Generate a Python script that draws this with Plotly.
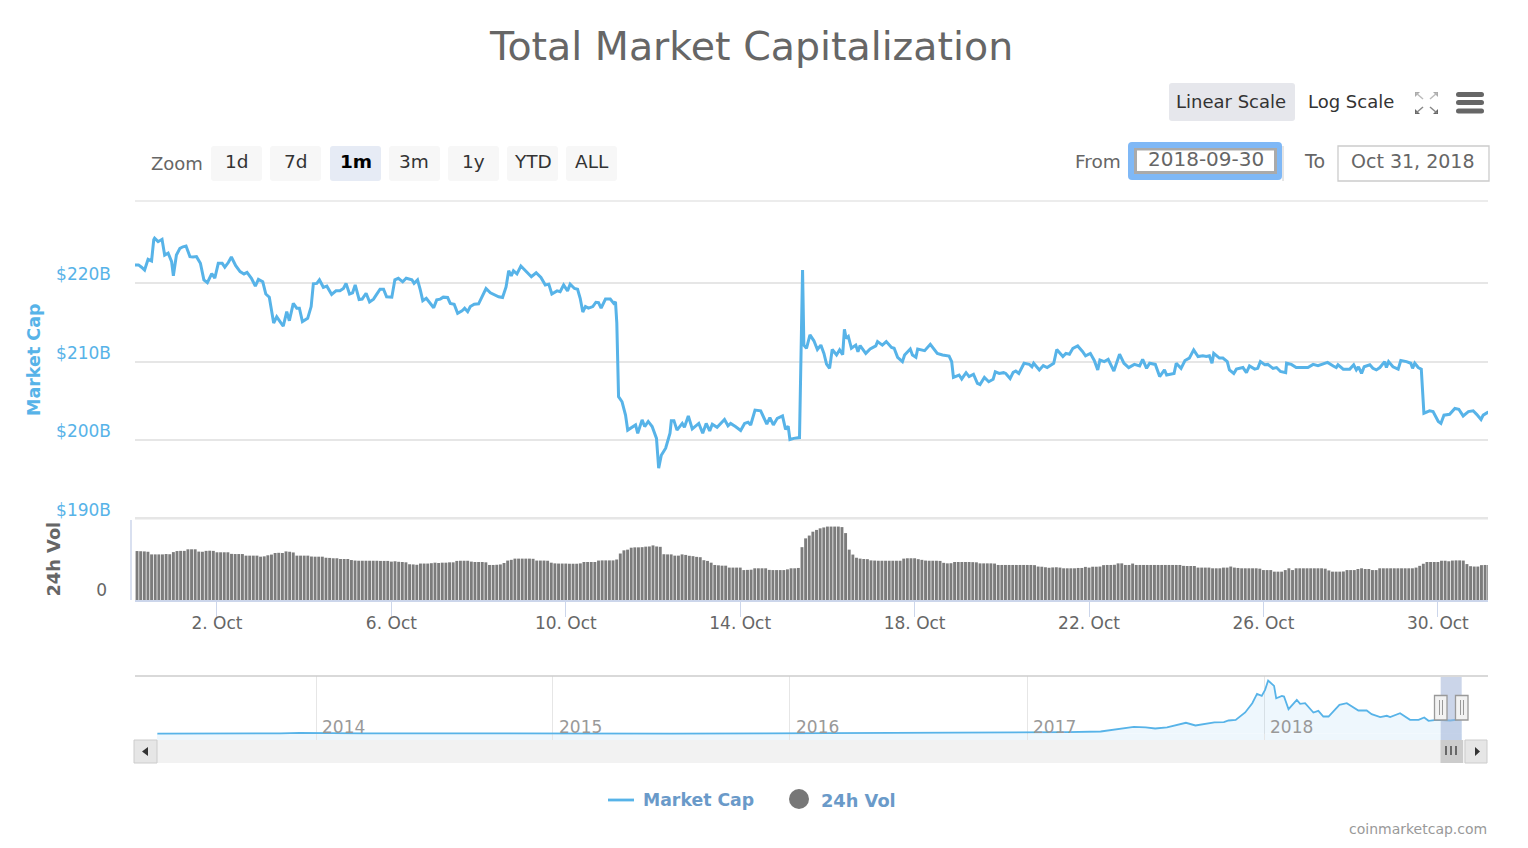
import pandas as pd
import plotly.graph_objects as go

# market cap, $B. days counted from 30 Sep 2018 00:00
line_days = [
    0.09, 0.20, 0.27, 0.34, 0.42, 0.50, 0.55, 0.57, 0.65, 0.74, 0.80, 0.88, 0.96, 1.00, 1.07, 1.15, 1.22, 1.29,
    1.38, 1.45, 1.53, 1.62, 1.70, 1.78, 1.88, 1.95, 2.03, 2.12, 2.18, 2.26, 2.33, 2.43, 2.53, 2.62, 2.69, 2.79,
    2.88, 2.95, 3.05, 3.12, 3.20, 3.25, 3.30, 3.37, 3.44, 3.52, 3.60, 3.66, 3.75, 3.83, 3.89, 3.96, 4.08, 4.16,
    4.21, 4.29, 4.35, 4.44, 4.52, 4.63, 4.73, 4.82, 4.90, 4.96, 5.04, 5.11, 5.17, 5.26, 5.33, 5.42, 5.50, 5.59,
    5.65, 5.74, 5.82, 5.89, 6.01, 6.08, 6.16, 6.26, 6.34, 6.47, 6.52, 6.60, 6.66, 6.72, 6.80, 6.89, 6.97, 7.04,
    7.12, 7.19, 7.29, 7.35, 7.44, 7.52, 7.62, 7.68, 7.75, 7.81, 7.90, 8.00, 8.07, 8.17, 8.27, 8.38, 8.46, 8.55,
    8.63, 8.69, 8.75, 8.80, 8.88, 8.97, 9.11, 9.21, 9.32, 9.43, 9.53, 9.61, 9.68, 9.80, 9.87, 9.95, 10.04, 10.10,
    10.20, 10.27, 10.33, 10.39, 10.45, 10.52, 10.62, 10.69, 10.75, 10.81, 10.91, 11.02, 11.10, 11.14, 11.17, 11.21,
    11.29, 11.37, 11.42, 11.52, 11.60, 11.65, 11.75, 11.81, 11.89, 11.98, 12.08, 12.13, 12.19, 12.29, 12.39, 12.42,
    12.48, 12.55, 12.67, 12.72, 12.81, 12.90, 13.05, 13.14, 13.22, 13.30, 13.36, 13.47, 13.64, 13.72, 13.78, 13.89,
    14.01, 14.10, 14.18, 14.24, 14.34, 14.47, 14.54, 14.61, 14.68, 14.76, 14.85, 14.97, 15.04, 15.10, 15.14, 15.23,
    15.36, 15.43, 15.46, 15.52, 15.60, 15.69, 15.77, 15.85, 15.92, 15.98, 16.05, 16.11, 16.21, 16.28, 16.35, 16.39,
    16.43, 16.48, 16.55, 16.65, 16.70, 16.75, 16.88, 16.98, 17.11, 17.15, 17.26, 17.35, 17.47, 17.53, 17.61, 17.72,
    17.77, 17.90, 17.95, 18.03, 18.07, 18.23, 18.36, 18.45, 18.52, 18.64, 18.79, 18.85, 18.89, 19.02, 19.08, 19.18,
    19.25, 19.35, 19.44, 19.50, 19.60, 19.70, 19.80, 19.85, 19.94, 20.04, 20.09, 20.19, 20.26, 20.32, 20.39, 20.51,
    20.63, 20.69, 20.73, 20.86, 20.95, 21.04, 21.13, 21.19, 21.26, 21.40, 21.47, 21.55, 21.63, 21.74, 21.85, 21.92,
    22.03, 22.12, 22.20, 22.25, 22.35, 22.44, 22.57, 22.70, 22.80, 22.91, 23.04, 23.16, 23.23, 23.32, 23.39, 23.52,
    23.62, 23.73, 23.78, 23.95, 24.00, 24.11, 24.20, 24.30, 24.40, 24.50, 24.61, 24.69, 24.76, 24.82, 24.86, 24.99,
    25.07, 25.17, 25.22, 25.32, 25.38, 25.53, 25.61, 25.68, 25.80, 25.87, 25.93, 26.03, 26.10, 26.22, 26.30, 26.39,
    26.51, 26.53, 26.64, 26.75, 27.02, 27.14, 27.25, 27.47, 27.60, 27.67, 27.71, 27.83, 27.98, 28.07, 28.13, 28.18,
    28.25, 28.31, 28.44, 28.51, 28.59, 28.67, 28.78, 28.82, 28.87, 28.97, 29.09, 29.15, 29.28, 29.38, 29.42, 29.47,
    29.55, 29.62, 29.68, 29.81, 29.89, 30.01, 30.07, 30.14, 30.27, 30.39, 30.48, 30.58, 30.70, 30.81, 30.89, 30.99,
    31.04, 31.14, 31.19,
]
market_cap = [
    222.3, 222.3, 222.0, 221.65, 223.0, 222.8, 225.5, 225.7, 225.25, 225.55, 223.55, 223.8, 222.7, 220.9, 223.55, 224.4, 224.6, 224.7,
    223.35, 223.3, 223.35, 222.5, 220.4, 220.05, 221.2, 220.6, 222.5, 222.5, 222.0, 222.6, 223.3, 222.2, 221.45, 221.15, 221.35, 220.6,
    219.6, 220.45, 220.15, 218.6, 218.2, 216.6, 214.9, 215.7, 215.1, 214.5, 216.35, 215.2, 217.4, 216.8, 216.8, 215.1, 215.5, 217.0,
    219.9, 219.95, 220.4, 219.45, 219.6, 218.55, 219.0, 219.0, 219.3, 219.95, 218.6, 218.75, 219.75, 217.9, 217.95, 218.7, 217.6, 217.95,
    218.45, 219.2, 219.2, 218.25, 218.2, 220.4, 220.6, 220.15, 220.6, 220.4, 219.95, 220.4, 219.2, 217.75, 218.05, 217.4, 216.85, 217.85,
    217.95, 218.2, 218.15, 217.4, 217.3, 216.15, 216.45, 216.8, 216.35, 217.0, 217.3, 217.35, 218.15, 219.3, 218.75, 218.45, 218.25, 218.15,
    219.5, 221.55, 220.9, 221.55, 221.15, 222.15, 221.3, 220.8, 221.3, 220.7, 219.75, 219.85, 218.6, 219.0, 218.9, 219.75, 219.0, 219.85,
    219.3, 219.2, 218.05, 216.3, 217.0, 216.8, 217.0, 217.55, 217.5, 216.8, 217.95, 217.95, 217.4, 217.6, 214.9, 205.55,
    204.9, 203.2, 201.3, 201.7, 201.95, 200.9, 202.6, 201.75, 202.4, 201.75, 200.25, 196.45, 198.1, 199.0, 200.9, 202.5,
    202.5, 201.3, 202.15, 201.65, 203.1, 201.45, 202.15, 200.9, 202.15, 201.2, 202.05, 201.65, 202.65, 201.85, 202.15, 201.75,
    201.25, 202.15, 202.3, 201.95, 203.85, 203.75, 203.0, 202.05, 202.9, 201.95, 202.8, 203.1, 201.4, 201.8, 200.1, 200.25,
    200.35, 221.65, 212.1, 211.7, 213.4, 212.65, 211.55, 212.1, 211.05, 209.7, 209.15, 211.55, 210.85, 211.5, 210.9, 214.1,
    212.95, 213.2, 211.7, 212.1, 211.25, 212.05, 211.05, 211.6, 212.0, 212.55, 212.1, 212.55, 211.8, 211.7, 210.55, 210.0,
    210.85, 211.6, 210.85, 210.55, 211.6, 211.4, 212.2, 211.5, 211.05, 210.85, 210.7, 210.0, 208.0, 208.3, 207.8, 208.6,
    208.1, 208.4, 207.25, 207.1, 208.0, 207.45, 207.75, 208.7, 208.5, 208.6, 208.5, 207.85, 208.65, 208.8, 208.5, 209.8,
    209.65, 209.35, 209.8, 208.95, 209.5, 209.25, 209.6, 209.8, 211.55, 210.65, 211.05, 210.95, 211.7, 212.0, 211.3, 210.75,
    211.05, 210.15, 208.95, 210.2, 210.0, 210.3, 208.8, 210.95, 209.8, 209.25, 209.65, 209.45, 210.3, 209.15, 209.8, 209.65,
    208.1, 208.95, 208.3, 208.5, 209.8, 209.15, 210.15, 210.45, 211.5, 210.65, 210.75, 210.65, 210.75, 209.8, 211.05, 210.45,
    210.45, 210.0, 208.95, 208.5, 209.05, 209.25, 208.6, 209.45, 209.05, 209.15, 210.0, 209.6, 209.65, 209.15, 209.25, 208.75,
    208.6, 209.8, 209.65, 209.25, 209.25, 209.65, 209.5, 209.9, 209.45, 209.25, 209.6, 209.05, 209.05, 209.6, 208.95, 209.35,
    208.5, 209.35, 209.6, 209.15, 208.95, 209.25, 210.0, 209.25, 210.0, 209.35, 209.05, 210.15, 210.0, 209.8, 209.15, 209.8,
    209.25, 209.05, 203.45, 203.75, 203.65, 202.4, 202.15, 203.2, 203.3, 204.05, 203.95, 203.1, 203.65, 203.75, 203.3, 202.65,
    203.2, 203.55, 203.45,
]

# 24h volume, $B, one bar every 2 hours from 30 Sep 02:00
volume = [
    14.4, 13.9, 13.85, 13.8, 13.7, 12.95, 12.95, 12.95, 12.95, 13.05, 13.0, 13.6, 13.9, 13.95, 13.95, 14.4, 14.4, 14.4,
    13.75, 13.7, 13.95, 14.0, 13.95, 13.55, 13.55, 13.55, 13.55, 13.1, 13.05, 13.05, 13.05, 12.6, 12.6, 12.6, 12.6, 12.3,
    12.4, 12.7, 12.9, 13.35, 13.4, 13.35, 13.8, 13.7, 13.5, 12.6, 12.6, 12.6, 12.6, 12.35, 12.3, 12.3, 12.3, 12.0,
    11.95, 11.85, 11.85, 11.65, 11.65, 11.65, 11.35, 11.2, 11.15, 11.15, 11.15, 11.15, 11.15, 11.15, 11.1, 11.1, 11.1, 10.9,
    11.0, 10.85, 10.8, 10.7, 10.15, 10.1, 10.0, 10.35, 10.35, 10.35, 10.45, 10.6, 10.5, 10.6, 10.6, 10.7, 10.7, 11.1,
    11.15, 11.15, 11.15, 10.9, 10.8, 10.8, 10.8, 10.7, 9.95, 9.95, 10.0, 10.1, 10.5, 11.2, 11.4, 11.75, 11.75, 11.75,
    11.75, 11.75, 11.7, 11.2, 11.2, 11.2, 11.15, 10.6, 10.4, 10.35, 10.35, 10.35, 10.3, 10.3, 10.3, 10.4, 10.8, 10.8,
    10.8, 10.8, 11.2, 11.25, 11.25, 11.25, 11.25, 11.5, 13.2, 14.1, 14.3, 14.85, 14.95, 14.95, 15.0, 15.15, 15.2, 15.5,
    15.2, 15.1, 13.0, 12.95, 12.95, 12.6, 12.6, 12.95, 12.8, 12.55, 12.45, 12.25, 12.15, 11.3, 11.1, 10.6, 9.95, 9.85,
    9.75, 9.75, 9.2, 9.2, 9.2, 9.2, 8.5, 8.55, 8.6, 9.0, 9.0, 9.0, 9.0, 8.55, 8.5, 8.5, 8.5, 8.5,
    8.7, 9.0, 9.0, 9.1, 15.0, 17.5, 18.3, 19.4, 19.9, 20.35, 20.6, 20.85, 20.85, 20.85, 20.85, 20.7, 19.0, 14.3,
    12.9, 12.0, 11.75, 11.65, 11.6, 11.25, 11.2, 11.15, 11.15, 11.15, 11.15, 11.15, 11.15, 11.15, 11.75, 11.85, 11.85, 11.85,
    11.6, 11.4, 11.2, 11.15, 11.15, 11.15, 11.1, 10.55, 10.4, 10.45, 10.8, 10.8, 10.8, 10.8, 10.8, 10.75, 10.7, 10.4,
    10.4, 10.4, 10.4, 10.35, 9.95, 9.95, 9.95, 9.95, 9.95, 9.95, 9.95, 9.95, 9.95, 9.95, 9.9, 9.5, 9.45, 9.3,
    9.15, 9.25, 9.3, 9.2, 9.0, 9.0, 9.0, 9.0, 9.1, 9.1, 9.4, 9.2, 9.45, 9.45, 9.5, 9.9, 9.95, 9.95,
    10.0, 10.4, 10.4, 9.95, 9.95, 10.35, 9.95, 9.95, 9.95, 9.95, 9.95, 9.95, 9.95, 9.95, 9.95, 9.95, 9.95, 9.95,
    9.95, 9.7, 9.65, 9.65, 9.65, 9.2, 9.2, 9.2, 9.2, 9.0, 9.0, 9.0, 9.2, 9.2, 9.5, 9.2, 9.1, 9.0,
    9.0, 9.0, 9.0, 9.0, 8.9, 8.5, 8.5, 8.5, 8.05, 8.05, 8.05, 8.5, 9.0, 8.5, 9.0, 9.0, 9.0, 9.0,
    9.0, 9.0, 9.0, 9.0, 8.9, 8.4, 8.05, 8.05, 8.05, 8.1, 8.5, 8.5, 8.5, 8.8, 9.0, 8.8, 8.8, 8.5,
    8.5, 9.0, 9.0, 9.0, 9.0, 9.0, 9.0, 9.0, 9.0, 9.0, 9.0, 9.2, 9.7, 10.3, 10.8, 10.8, 10.8, 10.8,
    11.15, 11.15, 11.0, 11.2, 11.25, 11.25, 11.2, 10.2, 9.6, 9.5, 9.5, 9.9, 9.95, 9.95,
]

# navigator: whole history, year as a decimal, $B
nav_years = [
    2013.33, 2013.60, 2013.85, 2013.93, 2014.00, 2014.20, 2014.50, 2014.80, 2015.00, 2015.50, 2015.90, 2016.00, 2016.20,
    2016.45, 2016.70, 2016.95, 2017.03, 2017.17, 2017.31, 2017.36, 2017.40, 2017.45, 2017.50, 2017.54, 2017.59, 2017.63,
    2017.67, 2017.71, 2017.75, 2017.79, 2017.83, 2017.85, 2017.88, 2017.92, 2017.95, 2017.97, 2017.99, 2018.004, 2018.017,
    2018.032, 2018.042, 2018.051, 2018.075, 2018.084, 2018.103, 2018.138, 2018.152, 2018.173, 2018.208, 2018.229, 2018.25,
    2018.272, 2018.318, 2018.349, 2018.398, 2018.433, 2018.454, 2018.49, 2018.518, 2018.532, 2018.574, 2018.616, 2018.652,
    2018.676, 2018.694, 2018.729, 2018.786, 2018.835,
]
nav_caps = [
    1.5, 1.5, 6, 14, 10, 8, 8, 5, 5, 4, 6, 7, 7,
    10, 12, 15, 20, 26, 36, 62, 83, 109, 99, 83, 99, 140,
    172, 130, 156, 177, 182, 208, 218, 333, 478, 624, 593, 686, 832,
    780, 749, 556, 593, 582, 385, 530, 468, 478, 333, 359, 270,
    270, 452, 478, 364, 364, 307, 260, 281, 260, 322, 218, 218,
    255, 203, 218, 208, 229,
]

tick_days = ["2018-10-02", "2018-10-06", "2018-10-10", "2018-10-14", "2018-10-18", "2018-10-22", "2018-10-26", "2018-10-30"]
tick_text = ["2. Oct", "6. Oct", "10. Oct", "14. Oct", "18. Oct", "22. Oct", "26. Oct", "30. Oct"]
cap_ticks = [190, 200, 210, 220]
cap_tick_text = ["$190B", "$200B", "$210B", "$220B"]
nav_ticks = ["2014-01-01", "2015-01-01", "2016-01-01", "2017-01-01", "2018-01-01"]
nav_labels = ["2014", "2015", "2016", "2017", "2018"]
zoom_labels = ["1d", "7d", "1m", "3m", "1y", "YTD", "ALL"]

assert len(line_days) == len(market_cap)
assert len(nav_years) == len(nav_caps)

W, H = 1528, 848
FONT = "DejaVu Sans"
BLUE = "#57b3e8"


def px(x):
    return x / W


def py(y):
    return 1 - y / H


def round_rect(x0, y0, x1, y1, r, fill, line=None, lw=0):
    X0, X1, Y0, Y1 = px(x0), px(x1), py(y0), py(y1)
    rx, ry = r / W, r / H
    path = (f"M{X0 + rx},{Y0} L{X1 - rx},{Y0} Q{X1},{Y0} {X1},{Y0 - ry} L{X1},{Y1 + ry} Q{X1},{Y1} {X1 - rx},{Y1} "
            f"L{X0 + rx},{Y1} Q{X0},{Y1} {X0},{Y1 + ry} L{X0},{Y0 - ry} Q{X0},{Y0} {X0 + rx},{Y0} Z")
    return dict(type="path", xref="paper", yref="paper", path=path, fillcolor=fill,
                line=dict(color=line or fill, width=lw), layer="above")


def rect(x0, y0, x1, y1, fill, line=None, lw=0, layer="above"):
    return dict(type="rect", xref="paper", yref="paper", x0=px(x0), x1=px(x1), y0=py(y1), y1=py(y0),
                fillcolor=fill, line=dict(color=line or fill, width=lw), layer=layer)


def hline(x0, x1, y, color, width=1):
    return dict(type="line", xref="paper", yref="paper", x0=px(x0), x1=px(x1), y0=py(y), y1=py(y),
                line=dict(color=color, width=width), layer="above")


def vline(x, y0, y1, color, width=1):
    return dict(type="line", xref="paper", yref="paper", x0=px(x), x1=px(x), y0=py(y0), y1=py(y1),
                line=dict(color=color, width=width), layer="above")


def seg(x0, y0, x1, y1, color, width=1.5):
    return dict(type="line", xref="paper", yref="paper", x0=px(x0), x1=px(x1), y0=py(y0), y1=py(y1),
                line=dict(color=color, width=width), layer="above")


def poly(points, fill):
    path = "M" + " L".join(f"{px(a)},{py(b)}" for a, b in points) + " Z"
    return dict(type="path", xref="paper", yref="paper", path=path, fillcolor=fill,
                line=dict(color=fill, width=0), layer="above")


def text(x, y, s, size=17, color="#666666", anchor="center", bold=False, angle=0, family=FONT):
    return dict(x=px(x), y=py(y), xref="paper", yref="paper", text=f"<b>{s}</b>" if bold else s, showarrow=False,
                xanchor=anchor, yanchor="middle", textangle=angle, borderpad=0,
                font=dict(family=family, size=size, color=color))


start = pd.Timestamp("2018-09-30")
line_x = start + pd.to_timedelta(line_days, unit="D")
vol_x = pd.date_range("2018-09-30 02:00", periods=len(volume), freq="2h")
nav_x = [pd.Timestamp(f"{int(y)}-01-01") + pd.Timedelta(days=(y - int(y)) * 365) for y in nav_years]

fig = go.Figure()
fig.add_trace(go.Scatter(x=line_x, y=market_cap, mode="lines", name="Market Cap",
                         line=dict(color=BLUE, width=3), xaxis="x", yaxis="y"))
fig.add_trace(go.Bar(x=vol_x, y=volume, name="24h Vol", marker=dict(color="#7c7c7c", line=dict(width=0)),
                     xaxis="x2", yaxis="y2"))
fig.add_trace(go.Scatter(x=nav_x, y=nav_caps, mode="lines", line=dict(color=BLUE, width=1.8),
                         fill="tozeroy", fillcolor="rgba(87,179,232,0.1)", xaxis="x3", yaxis="y3"))

x_range = [start + pd.Timedelta(days=0.12), start + pd.Timedelta(days=31.15)]
x_domain = [px(135), px(1488)]

shapes = [
    hline(135, 1488, 201, "#e6e6e6", 1.6),
    hline(135, 1488, 518.3, "#e6e6e6", 2.6),
    hline(135, 1488, 676, "#cccccc", 1.5),
    vline(131, 520, 600, "#ccd6eb", 1.5),
    rect(157, 734, 1462, 740, "rgba(87,179,232,0.1)", layer="below"),
    # navigator selection
    rect(1440.7, 677, 1461.7, 740, "rgba(160,178,215,0.55)"),
    # scrollbar
    rect(157, 740, 1465, 763, "#f2f2f2"),
    rect(134, 740, 157, 763, "#e6e6e6", "#cccccc", 1),
    rect(1465, 740, 1487, 763, "#e6e6e6", "#cccccc", 1),
    rect(1440.5, 740, 1463, 763, "#cccccc"),
    vline(1446, 746, 755, "#333333", 1.3),
    vline(1451, 746, 755, "#333333", 1.3),
    vline(1456, 746, 755, "#333333", 1.3),
    poly([(142, 751.5), (148, 747), (148, 756)], "#333333"),
    poly([(1480, 751.5), (1475, 747), (1475, 756)], "#333333"),
    # navigator handles
    rect(1434.5, 695.5, 1447, 720, "#f2f2f2", "#999999", 1.3),
    vline(1439.5, 700, 715, "#999999", 1),
    vline(1442.5, 700, 715, "#999999", 1),
    rect(1455.5, 695.5, 1468, 720, "#f2f2f2", "#999999", 1.3),
    vline(1460.5, 700, 715, "#999999", 1),
    vline(1463.5, 700, 715, "#999999", 1),
    # scale buttons
    round_rect(1169, 83, 1295, 121, 3, "#e6e7ec"),
    # hamburger
    round_rect(1456, 92, 1484, 97, 2.5, "#666666"),
    round_rect(1456, 100, 1484, 105, 2.5, "#666666"),
    round_rect(1456, 108.5, 1484, 113.5, 2.5, "#666666"),
    # fullscreen icon
    poly([(1415, 92), (1420, 92), (1415, 97)], "#aaaaaa"),
    poly([(1438, 92), (1433, 92), (1438, 97)], "#aaaaaa"),
    poly([(1415, 114), (1420, 114), (1415, 109)], "#666666"),
    poly([(1438, 114), (1433, 114), (1438, 109)], "#666666"),
    seg(1416, 93, 1423, 99, "#bbbbbb"),
    seg(1437, 93, 1430, 99, "#bbbbbb"),
    seg(1416, 113, 1423, 107, "#888888"),
    seg(1437, 113, 1430, 107, "#888888"),
    # from / to inputs
    vline(1283, 146, 181, "#cccccc", 1),
    round_rect(1128, 142, 1282, 180, 4, "#7fb8f6"),
    rect(1134, 148, 1277, 174, "#aaaaaa"),
    rect(1137, 150.5, 1274, 171, "#ffffff"),
    rect(1338, 146, 1489, 181, "#ffffff", "#cccccc", 1.3),
    # legend
    hline(608, 634, 800, BLUE, 2.8),
    dict(type="circle", xref="paper", yref="paper", x0=px(789), x1=px(809), y0=py(809), y1=py(789),
         fillcolor="#777777", line=dict(width=0), layer="above"),
]

zoom_x = [211, 270, 330, 389, 448, 507, 566]
annotations = [
    text(751, 46, "Total Market Capitalization", size=39.5),
    text(177, 163, "Zoom", size=18),
    text(1231, 102, "Linear Scale", size=18, color="#333333"),
    text(1351, 102, "Log Scale", size=18, color="#333333"),
    text(1097.5, 161, "From", size=18.5),
    text(1314, 161, "To", size=19),
    text(1205.5, 159, "2018-09-30", size=20),
    text(1413, 161, "Oct 31, 2018", size=19),
    text(34, 360, "Market Cap", size=17.5, color=BLUE, bold=True, angle=-90),
    text(52.5, 559, "24h Vol", size=17.8, bold=True, angle=-90),
    text(642, 800, "Market Cap", size=17.3, color="#6a9ac9", anchor="left", bold=True),
    text(820, 800, "24h Vol", size=17.8, color="#6a9ac9", anchor="left", bold=True),
    text(1488, 829, "coinmarketcap.com", size=14, color="#999999", anchor="right"),
]
for x0, label in zip(zoom_x, zoom_labels):
    active = label == "1m"
    shapes.append(round_rect(x0, 146, x0 + 51, 181, 3, "#e6ebf5" if active else "#f7f7f7"))
    annotations.append(text(x0 + 25.5, 161, label, size=18.5, color="#000000" if active else "#333333", bold=active))
for tick, label in zip(nav_ticks, nav_labels):
    annotations.append(dict(x=tick, y=py(727), xref="x3", yref="paper", text=label, showarrow=False, xanchor="left",
                            yanchor="middle", xshift=4, font=dict(family=FONT, size=17, color="#999999")))

fig.update_layout(
    width=W, height=H, margin=dict(l=0, r=0, t=0, b=0), autosize=False,
    paper_bgcolor="white", plot_bgcolor="white", showlegend=False, hovermode=False, bargap=0.2,
    font=dict(family=FONT, size=17, color="#666666"),
    shapes=shapes, annotations=annotations,
    xaxis=dict(domain=x_domain, range=x_range, anchor="y", type="date", showticklabels=False, showgrid=False,
               zeroline=False, showline=False, ticks=""),
    yaxis=dict(domain=[py(519), py(201)], range=[190, 230.42], anchor="x", tickmode="array", tickvals=cap_ticks,
               ticktext=cap_tick_text, ticklabelposition="outside top", ticklabelstandoff=23, ticklabelshift=3,
               tickfont=dict(family=FONT, size=17, color=BLUE), gridcolor="#e6e6e6", gridwidth=1.6, zeroline=False,
               showline=False, ticks=""),
    xaxis2=dict(domain=x_domain, range=x_range, anchor="y2", type="date", tickmode="array", tickvals=tick_days,
                ticktext=tick_text, tickfont=dict(family=FONT, size=17, color="#666666"), showgrid=False,
                zeroline=False, showline=True, linecolor="#ccd6eb", linewidth=1.5, ticks="outside", ticklen=15,
                tickcolor="#ccd6eb", tickwidth=1.3, ticklabelstandoff=-8),
    yaxis2=dict(domain=[py(600), py(519)], range=[0, 23], anchor="x2", tickmode="array", tickvals=[0], ticktext=["0"],
                ticklabelposition="outside top", ticklabelstandoff=27, ticklabelshift=2,
                tickfont=dict(family=FONT, size=17, color="#666666"), showgrid=False, zeroline=False, showline=False,
                ticks=""),
    xaxis3=dict(domain=x_domain, range=["2013-03-28", "2018-12-12"], anchor="y3", type="date", tickmode="array",
                tickvals=nav_ticks, showticklabels=False, showgrid=True, gridcolor="#e6e6e6", gridwidth=1.3,
                zeroline=False, showline=False, ticks=""),
    yaxis3=dict(domain=[py(740), py(676)], range=[-97, 903], anchor="x3", visible=False, showgrid=False,
                zeroline=False),
)

fig.write_html("out.html", config={"displayModeBar": False},
               post_script="document.body.style.margin='0';document.body.style.overflow='hidden';")
